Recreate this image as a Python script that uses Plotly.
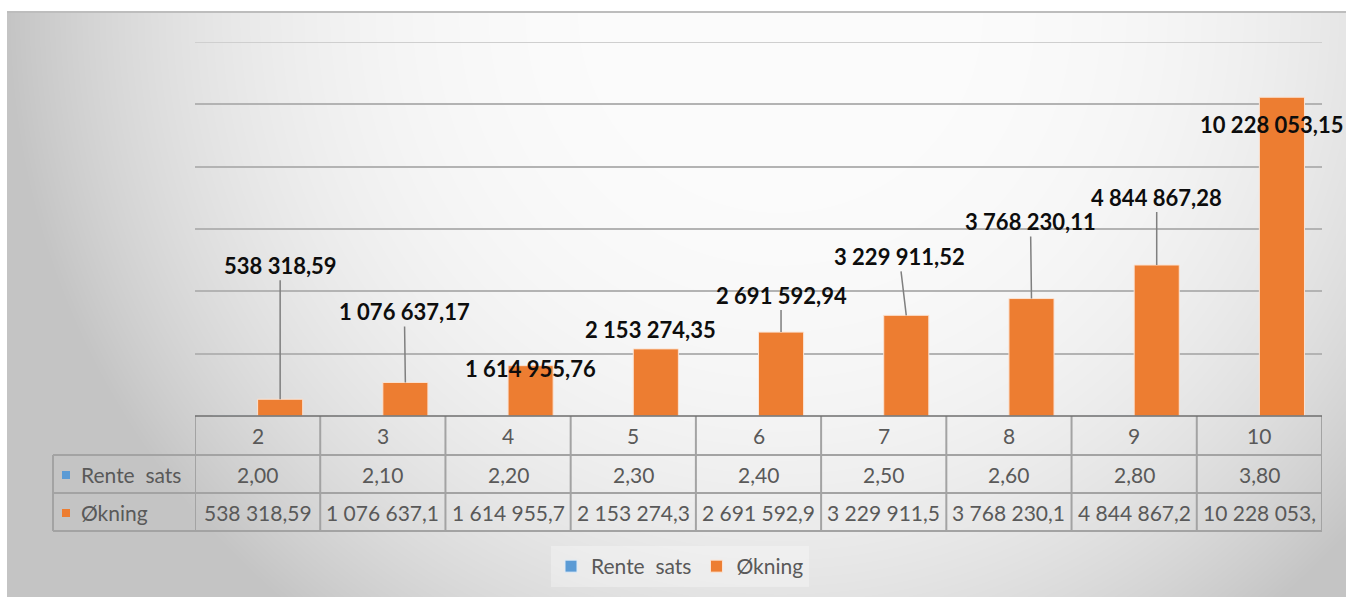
import base64, struct, zlib
import numpy as np
import plotly.graph_objects as go

# ---------------- data ----------------
categories = ["2", "3", "4", "5", "6", "7", "8", "9", "10"]
rente_sats = [2.00, 2.10, 2.20, 2.30, 2.40, 2.50, 2.60, 2.80, 3.80]
okning = [538318.59, 1076637.17, 1614955.76, 2153274.35, 2691592.94,
          3229911.52, 3768230.11, 4844867.28, 10228053.15]
series_names = ["Rente  sats", "Økning"]
y_max, y_step = 12_000_000, 2_000_000

# ---------------- style / layout ----------------
W_FIG, H_FIG = 1346, 599
L, R, T, B = 195, 1322, 42, 416          # plot area in pixels
PW, PH = R - L, B - T
BLUE, ORANGE = "#5B9BD5", "#ED7D31"
TXT = "#595959"
FONT = "Lato"
BARGAP = 0.28
GRID = "#b3b3b3"

def px(x):  # pixel -> paper x
    return (x - L) / PW

def py(y):  # pixel -> paper y
    return (B - y) / PH

def fmt_no(v, dec=2):
    s = f"{v:,.{dec}f}"
    return s.replace(",", " ").replace(".", ",")

# ---------------- gradient background (radial, Excel-like) ----------------
gx0, gy0, gx1, gy1 = 7, 12, 1346, 597
xs = np.arange(gx0, gx1)[None, :].astype(float)
ys = np.arange(gy0, gy1)[:, None].astype(float)
d = np.sqrt((xs - 780.0) ** 2 + (ys - 10.0) ** 2)
val = np.clip(252 - 55 * (d / 770.0) ** 3.0, 196, 252).astype(np.uint8)

def png_gray(arr):
    h, w = arr.shape
    raw = b"".join(b"\x00" + arr[r].tobytes() for r in range(h))
    def chunk(t, dat):
        c = struct.pack(">I", len(dat)) + t + dat
        return c + struct.pack(">I", zlib.crc32(t + dat) & 0xffffffff)
    return (b"\x89PNG\r\n\x1a\n"
            + chunk(b"IHDR", struct.pack(">IIBBBBB", w, h, 8, 0, 0, 0, 0))
            + chunk(b"IDAT", zlib.compress(raw, 9))
            + chunk(b"IEND", b""))

bg_uri = "data:image/png;base64," + base64.b64encode(png_gray(val)).decode()

# ---------------- figure ----------------
fig = go.Figure()
fig.add_trace(go.Bar(x=categories, y=rente_sats, name=series_names[0],
                     marker=dict(color=BLUE, line=dict(color="#deebf7", width=1))))
fig.add_trace(go.Bar(x=categories, y=okning, name=series_names[1],
                     marker=dict(color=ORANGE, line=dict(color="#fbe3d3", width=1))))

shapes = []
annotations = []

# outer chart border (top)
shapes.append(dict(type="line", xref="paper", yref="paper",
                   x0=px(gx0), x1=px(gx1), y0=py(gy0), y1=py(gy0),
                   line=dict(color="#bdbdbd", width=2)))
# top gridline (at axis maximum)
shapes.append(dict(type="line", xref="paper", yref="y", layer="below",
                   x0=0, x1=1, y0=y_max, y1=y_max,
                   line=dict(color="#cfcfcf", width=2)))

# ---- data table ----
row_y = [416, 455, 493, 531]
tbl_col = "#a3a3a3"
n = len(categories)
for yy in row_y[1:]:
    shapes.append(dict(type="line", xref="paper", yref="paper",
                       x0=px(53), x1=px(R), y0=py(yy), y1=py(yy),
                       line=dict(color=tbl_col, width=2)))
for k in range(n + 1):
    shapes.append(dict(type="line", xref="x", yref="paper",
                       x0=k - 0.5, x1=k - 0.5, y0=py(416), y1=py(531),
                       line=dict(color=tbl_col, width=2)))
shapes.append(dict(type="line", xref="paper", yref="paper",
                   x0=px(53), x1=px(53), y0=py(455), y1=py(531),
                   line=dict(color=tbl_col, width=2)))
# horizontal axis line
shapes.append(dict(type="line", xref="paper", yref="paper",
                   x0=0, x1=1, y0=0, y1=0,
                   line=dict(color="#6e6e6e", width=1.5)))

row_centers = [(row_y[i] + row_y[i + 1]) / 2 for i in range(3)]
cell_font = dict(family=FONT, size=21, color=TXT)
for i, c in enumerate(categories):
    for r, txt in enumerate([c, fmt_no(rente_sats[i]), fmt_no(okning[i])[:11]]):
        annotations.append(dict(x=i, y=py(row_centers[r]), xref="x", yref="paper",
                                xanchor="center", yanchor="middle",
                                text=txt, showarrow=False, font=cell_font))
for name, col, rc in [(series_names[0], BLUE, row_centers[1]),
                      (series_names[1], ORANGE, row_centers[2])]:
    shapes.append(dict(type="rect", xref="paper", yref="paper",
                       x0=px(62), x1=px(70), y0=py(rc - 3), y1=py(rc + 5),
                       fillcolor=col, line=dict(width=0)))
    annotations.append(dict(x=px(79), y=py(rc), xref="paper", yref="paper",
                            xanchor="left", yanchor="middle", showarrow=False,
                            font=cell_font, text=name))

# ---- data labels with leader lines ----
label_dx = [0, -1, 0, -5, 0, -7, -1, 0, -10]
label_dy = [-134, -71, 3, -19, -37, -59, -77, -68, 27]
leader = [True, True, False, False, True, True, True, True, False]
bar_shift = PW / n * (1 - BARGAP) / 4
for i, c in enumerate(categories):
    annotations.append(dict(
        x=i, y=okning[i], xref="x", yref="y", xshift=bar_shift,
        text=fmt_no(okning[i]), showarrow=True, arrowhead=0,
        arrowwidth=1.5, arrowcolor="#7f7f7f" if leader[i] else "rgba(0,0,0,0)",
        ax=label_dx[i], ay=label_dy[i], standoff=0,
        font=dict(family=FONT, size=22, color="#0d0d0d", weight="bold")))

fig.update_layout(
    width=W_FIG, height=H_FIG,
    margin=dict(l=L, r=W_FIG - R, t=T, b=H_FIG - B, pad=0),
    paper_bgcolor="white", plot_bgcolor="rgba(0,0,0,0)",
    barmode="group", bargap=BARGAP, bargroupgap=0,
    font=dict(family=FONT, color=TXT),
    showlegend=True,
    legend=dict(orientation="h", x=px(680), xanchor="center",
                y=py(546), yanchor="top",
                bgcolor="rgba(255,255,255,0.3)",
                font=dict(family=FONT, size=21, color=TXT),
                itemclick=False),
    xaxis=dict(type="category", range=[-0.5, n - 0.5], showticklabels=False,
               showgrid=False, zeroline=False, showline=False, ticks=""),
    yaxis=dict(range=[0, y_max], dtick=y_step, showticklabels=False,
               showgrid=True, gridcolor=GRID, gridwidth=2,
               zeroline=False, showline=False, ticks=""),
    shapes=shapes,
    annotations=annotations,
    images=[dict(source=bg_uri, xref="paper", yref="paper",
                 x=px(gx0), y=py(gy0), sizex=(gx1 - gx0) / PW, sizey=(gy1 - gy0) / PH,
                 xanchor="left", yanchor="top", sizing="stretch", layer="below")],
)

fig.write_html("out.html", config={"displayModeBar": False})
